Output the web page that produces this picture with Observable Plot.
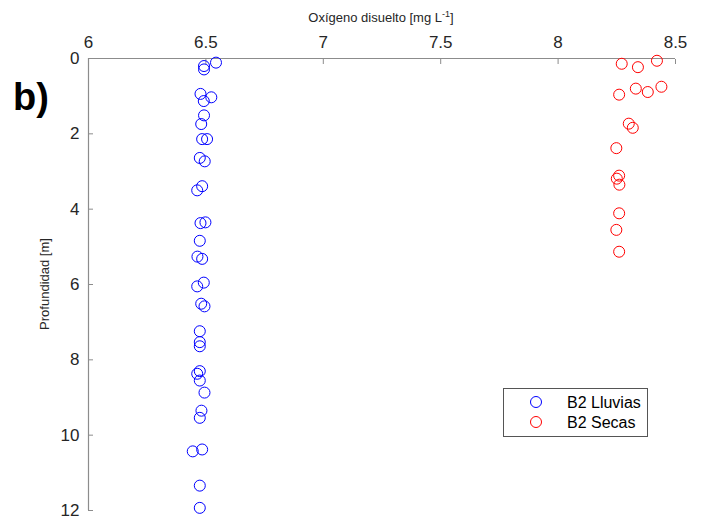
<!DOCTYPE html>
<html>
<head>
<meta charset="utf-8">
<script src="https://cdn.jsdelivr.net/npm/d3@7"></script>
<script src="https://cdn.jsdelivr.net/npm/@observablehq/plot@0.6"></script>
<style>
  html, body { margin: 0; padding: 0; background: #fff; }
  #chart { position: relative; width: 703px; height: 523px; }
</style>
</head>
<body>
<div id="chart"></div>
<script>
// Series: B2 Lluvias (blue)
const lluviasOD = [6.543, 6.492, 6.492, 6.477, 6.523, 6.491, 6.492, 6.480, 6.484, 6.505, 6.474, 6.495,
  6.484, 6.463, 6.477, 6.498, 6.474, 6.464, 6.484, 6.491, 6.463, 6.480, 6.494, 6.474, 6.474, 6.474,
  6.474, 6.463, 6.474, 6.494, 6.481, 6.474, 6.444, 6.484, 6.474, 6.474];
const lluviasProf = [0.11, 0.20, 0.29, 0.94, 1.03, 1.13, 1.51, 1.74, 2.14, 2.14, 2.64, 2.73,
  3.39, 3.50, 4.37, 4.35, 4.84, 5.26, 5.32, 5.95, 6.05, 6.51, 6.58, 7.24, 7.53, 7.64,
  8.30, 8.37, 8.55, 8.87, 9.35, 9.54, 10.43, 10.38, 11.34, 11.93];
// Series: B2 Secas (red)
const secasOD = [8.271, 8.340, 8.421, 8.260, 8.331, 8.382, 8.440, 8.301, 8.318, 8.248, 8.260, 8.250,
  8.261, 8.260, 8.248, 8.260];
const secasProf = [0.14, 0.23, 0.06, 0.96, 0.80, 0.89, 0.75, 1.73, 1.84, 2.38, 3.11, 3.19,
  3.35, 4.11, 4.55, 5.13];

const seriesNames = ["B2 Lluvias", "B2 Secas"];
const seriesColors = ["#0000ff", "#ff0000"];
const xTicks = [6, 6.5, 7, 7.5, 8, 8.5];
const yTicks = [0, 2, 4, 6, 8, 10, 12];
const xTitle = "Oxígeno disuelto [mg L";
const yTitle = "Profundidad [m]";
const panelLabel = "b)";

const lluvias = lluviasOD.map((v, i) => ({od: v, prof: lluviasProf[i]}));
const secas = secasOD.map((v, i) => ({od: v, prof: secasProf[i]}));

const axisGray = "#8c8c8c";
const textColor = "#262626";
const fmt = d => String(d);

const plot = Plot.plot({
  width: 703,
  height: 523,
  marginLeft: 88,
  marginRight: 28,
  marginTop: 58,
  marginBottom: 13,
  style: {fontFamily: "'Liberation Sans', Arial, sans-serif", fontSize: "17px", color: textColor, background: "#fff"},
  x: {domain: [6, 8.5]},
  y: {domain: [0, 12], reverse: true},
  marks: [
    Plot.axisX(xTicks, {anchor: "top", tickSize: -5, tickPadding: 16, tickFormat: fmt, label: null, stroke: axisGray, fill: textColor, fontSize: 17}),
    Plot.axisY(yTicks, {anchor: "left", tickSize: -5, tickPadding: 14, tickFormat: fmt, label: null, stroke: axisGray, fill: textColor, fontSize: 17}),
    Plot.ruleY([0], {stroke: axisGray, strokeWidth: 1.2}),
    Plot.ruleX([6], {stroke: axisGray, strokeWidth: 1.2}),
    Plot.dot(lluvias, {x: "od", y: "prof", r: 5.5, stroke: seriesColors[0], strokeWidth: 1, fill: "none"}),
    Plot.dot(secas, {x: "od", y: "prof", r: 5.5, stroke: seriesColors[1], strokeWidth: 1, fill: "none"})
  ]
});

const svg = d3.select(plot);

// X title with superscript
const t = svg.append("text")
  .attr("x", 381).attr("y", 22)
  .attr("text-anchor", "middle")
  .attr("font-size", 13)
  .attr("fill", textColor)
  .text(xTitle);
t.append("tspan").attr("font-size", 9).attr("dy", -5).text("-1");
t.append("tspan").attr("dy", 5).text("]");

// Y title
svg.append("text")
  .attr("transform", "translate(49,284) rotate(-90)")
  .attr("text-anchor", "middle")
  .attr("font-size", 13)
  .attr("fill", textColor)
  .text(yTitle);

// Panel label
svg.append("text")
  .attr("x", 13).attr("y", 110)
  .attr("text-anchor", "start")
  .attr("font-size", 38)
  .attr("font-weight", "bold")
  .attr("fill", "#000")
  .text(panelLabel);

// Legend
const lg = svg.append("g");
lg.append("rect").attr("x", 503.5).attr("y", 388.5).attr("width", 144).attr("height", 48)
  .attr("fill", "#fff").attr("stroke", "#555").attr("stroke-width", 1);
seriesNames.forEach((name, i) => {
  const cy = 402 + i * 20;
  lg.append("circle").attr("cx", 536).attr("cy", cy).attr("r", 5.5)
    .attr("fill", "none").attr("stroke", seriesColors[i]).attr("stroke-width", 1);
  lg.append("text").attr("x", 567).attr("y", cy + 5.5)
    .attr("text-anchor", "start")
    .attr("font-size", 16).attr("fill", "#000").text(name);
});

document.getElementById("chart").appendChild(plot);
</script>
</body>
</html>
